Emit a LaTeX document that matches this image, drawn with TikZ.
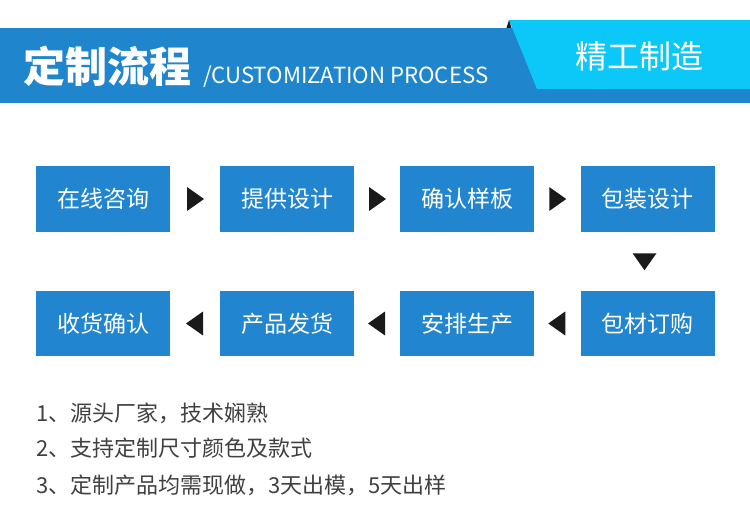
\documentclass[tikz,border=0pt]{standalone}
\usepackage{fontspec}
\newfontfamily\cjk{Noto Sans CJK SC}
\usetikzlibrary{calc}
\definecolor{bandblue}{HTML}{1F85CD}
\definecolor{tabcyan}{HTML}{0CC8F8}
\definecolor{boxblue}{HTML}{2186CF}
\definecolor{arrowblack}{HTML}{1A1A1A}
\definecolor{notegray}{HTML}{404040}
\tikzset{
  stepbox/.style={fill=boxblue, minimum width=134pt, minimum height=65pt, inner sep=0pt,
    text=white, font=\cjk\fontsize{23}{23}\selectfont},
  notetext/.style={anchor=west, inner sep=0pt, text=notegray, font=\cjk\fontsize{22}{22}\selectfont},
  tri/.style={fill=arrowblack}
}
\begin{document}
\begin{tikzpicture}[x=1pt,y=-1pt]
\useasboundingbox (0,0) rectangle (750,524);
% header
\fill[bandblue] (0,28) rectangle (750,103);
\fill[tabcyan] (509,20) -- (750,20) -- (750,89) -- (537,89) -- cycle;
\fill[arrowblack] (506.5,28) -- (509,20) -- (511.5,28) -- cycle;
\node[anchor=west, inner sep=0pt, text=white, font=\cjk\bfseries\fontsize{42}{42}\selectfont] (title) at (23,66) {定制流程};
\node[anchor=base west, inner sep=0pt, text=white, font=\cjk\fontsize{22.2}{22.2}\selectfont] (subtitle) at (203,84) {/CUSTOMIZATION PROCESS};
\node[inner sep=0pt, text=white, font=\cjk\fontsize{32}{32}\selectfont] (tag) at (639,56) {精工制造};
% boxes
\node[stepbox] (b1) at (103,199) {在线咨询};
\node[stepbox] (b2) at (287,199) {提供设计};
\node[stepbox] (b3) at (467,199) {确认样板};
\node[stepbox] (b4) at (647.5,199) {包装设计};
\node[stepbox] (b8) at (647.5,323.5) {包材订购};
\node[stepbox] (b7) at (467,323.5) {安排生产};
\node[stepbox] (b6) at (287,323.5) {产品发货};
\node[stepbox] (b5) at (103,323.5) {收货确认};
% arrows
\foreach \a/\b in {b1/b2,b2/b3,b3/b4}{
  \coordinate (m) at ($(\a.east)!0.5!(\b.west)$);
  \fill[tri] ($(m)+(-8,-12)$) -- ($(m)+(9,0)$) -- ($(m)+(-8,12)$) -- cycle;
}
\foreach \a/\b in {b8/b7,b7/b6,b6/b5}{
  \coordinate (m) at ($(\a.west)!0.5!(\b.east)$);
  \fill[tri] ($(m)+(8,-12)$) -- ($(m)+(-9,0)$) -- ($(m)+(8,12)$) -- cycle;
}
\coordinate (md) at ($(b4.south)!0.5!(b8.north)$);
\fill[tri] ($(md)+(-15,-8)$) -- ($(md)+(9,-8)$) -- ($(md)+(-3,9)$) -- cycle;
% notes
\node[notetext] (n1) at (36,413) {1、源头厂家，技术娴熟};
\node[notetext] (n2) at (36,448) {2、支持定制尺寸颜色及款式};
\node[notetext] (n3) at (36,485) {3、定制产品均需现做，3天出模，5天出样};
\end{tikzpicture}
\end{document}
